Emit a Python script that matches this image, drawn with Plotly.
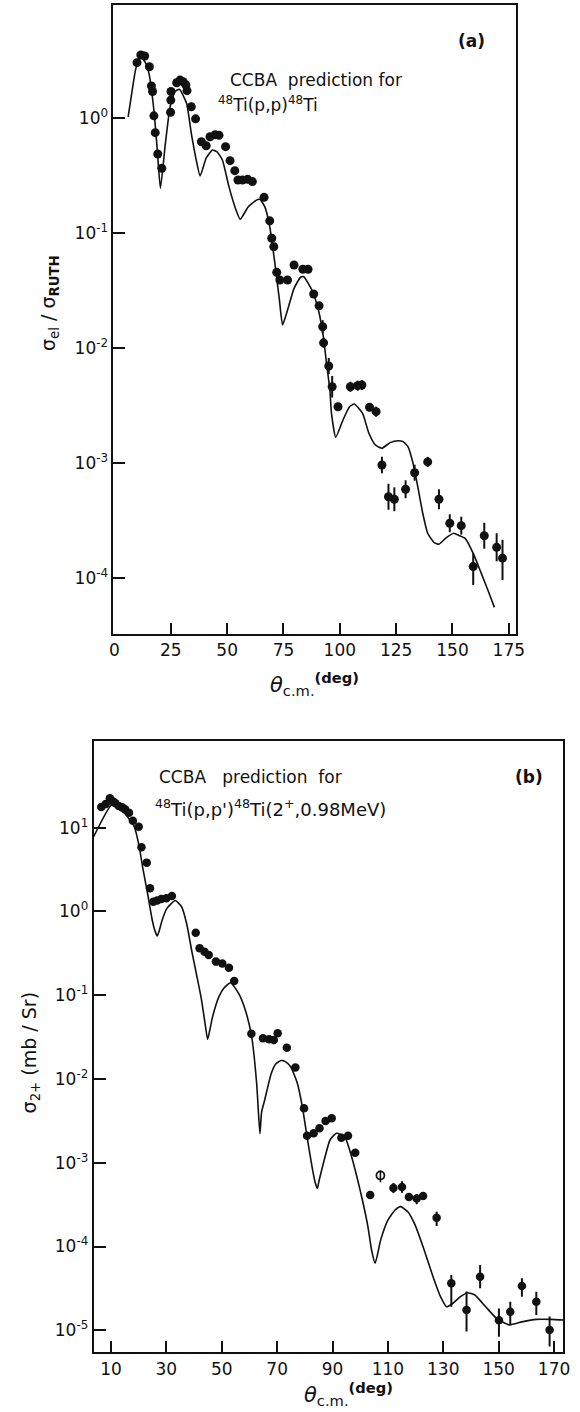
import plotly.graph_objects as go

# ---------------- Panel (a): elastic 48Ti(p,p)48Ti ----------------
theta_a = [10.0, 11.7, 13.4, 15.5, 16.4, 16.9, 17.5, 18.1, 19.2, 21.0,
           24.9, 25.0, 25.1, 27.6, 29.1, 30.5, 31.7, 32.2, 34.1, 36.0,
           38.6, 40.7, 42.4, 44.7, 46.4, 49.3, 51.3, 53.4, 54.8, 56.8,
           59.1, 61.2, 66.4, 68.9, 69.8, 70.7, 72.0, 73.4, 76.8, 79.7,
           83.6, 85.9, 88.4, 90.8, 92.4, 92.8, 95.1, 96.6, 99.2, 104.7,
           107.9, 109.8, 113.2, 116.1, 118.7, 121.6, 124.2, 129.2, 133.2, 139.0,
           144.0, 148.8, 153.9, 159.2, 164.1, 169.6, 172.2]
sig_a = [3.05, 3.56, 3.49, 2.81, 1.91, 1.71, 1.05, 0.750, 0.489, 0.367,
         1.13, 1.44, 1.71, 2.04, 2.15, 2.08, 1.95, 1.74, 1.26, 0.99,
         0.625, 0.577, 0.691, 0.720, 0.711, 0.566, 0.428, 0.350, 0.290, 0.290,
         0.294, 0.281, 0.205, 0.128, 0.0902, 0.0762, 0.0456, 0.0391, 0.0391, 0.0528,
         0.0485, 0.0485, 0.0295, 0.0233, 0.0153, 0.0111, 0.00697, 0.00460, 0.00308, 0.00460,
         0.00470, 0.00476, 0.00305, 0.00279, 0.000958, 0.000507, 0.000482, 0.000589, 0.000821, 0.00102,
         0.000482, 0.000298, 0.000284, 0.000125, 0.000232, 0.000184, 0.000148]
# error bar half-lengths in decades (up / down)
err_a_up = [0] * 44 + [0.058, 0.044, 0.07, 0.094, 0.026, 0.044, 0.044, 0.044, 0.035, 0.044,
                       0.072, 0.113, 0.104, 0.078, 0.07, 0.044, 0.087, 0.078, 0.078, 0.116,
                       0.113, 0.122, 0.16]
err_a_dn = [0] * 44 + [0.058, 0.044, 0.07, 0.094, 0.026, 0.044, 0.044, 0.044, 0.035, 0.044,
                       0.072, 0.113, 0.104, 0.078, 0.07, 0.044, 0.087, 0.078, 0.078, 0.16,
                       0.113, 0.122, 0.19]

curve_a_theta = [6.07, 8.1, 9.5, 11.7, 13.9, 15.3, 17.5, 19.0, 20.4, 22.6,
                 24.7, 26.9, 28.8, 32.0, 34.1, 36.3, 38.0, 40.7, 43.5, 45.6,
                 47.9, 50.8, 53.7, 55.8, 59.4, 63.0, 64.5, 66.7, 68.9, 71.0,
                 73.2, 74.6, 76.8, 79.7, 82.6, 84.0, 87.6, 90.5, 92.7, 94.1,
                 95.6, 96.3, 98.2, 101.4, 104.3, 106.4, 110.1, 112.9, 115.8, 118.7,
                 122.3, 125.9, 128.1, 130.3, 132.5, 134.6, 136.8, 139.0, 141.9, 144.0,
                 146.9, 150.5, 152.7, 155.6, 159.2, 162.8, 165.7, 168.6]
curve_a_sig = [1.03, 1.88, 2.72, 3.44, 3.01, 2.46, 1.18, 0.53, 0.246, 0.605,
               1.26, 1.71, 1.79, 1.35, 0.74, 0.433, 0.315, 0.449, 0.53, 0.509,
               0.433, 0.254, 0.164, 0.132, 0.170, 0.194, 0.197, 0.170, 0.114, 0.0583,
               0.0262, 0.0159, 0.0214, 0.0331, 0.0413, 0.0418, 0.0320, 0.0214, 0.01254, 0.00736,
               0.00431, 0.00270, 0.00167, 0.00236, 0.00308, 0.00325, 0.00270, 0.00181, 0.00143, 0.00134,
               0.00150, 0.00156, 0.00153, 0.00138, 0.00099, 0.00062, 0.000364, 0.000244, 0.000202, 0.000196,
               0.000220, 0.000244, 0.000234, 0.000220, 0.000163, 0.000109, 0.0000781, 0.0000552]

xticks_a = [0, 25, 50, 75, 100, 125, 150, 175]
yticks_a = [1e-4, 1e-3, 1e-2, 1e-1, 1]
yticklabels_a = ["10<sup>-4</sup>", "10<sup>-3</sup>", "10<sup>-2</sup>", "10<sup>-1</sup>", "10<sup>0</sup>"]

# ---------------- Panel (b): inelastic 48Ti(p,p')48Ti(2+) ----------------
theta_b = [6.5, 8.1, 9.6, 10.8, 11.6, 12.8, 14.0, 15.1, 16.5, 17.9,
           20.0, 21.0, 22.9, 24.1, 25.3, 26.7, 28.2, 30.0, 32.0, 40.6,
           42.0, 43.8, 45.3, 47.9, 50.2, 52.6, 54.5, 60.7, 64.9, 67.1,
           68.8, 70.2, 73.5, 76.6, 79.7, 80.8, 83.2, 85.3, 87.5, 89.7,
           93.2, 95.6, 98.2, 103.6, 112.0, 115.1, 117.6, 120.4, 122.7,
           127.6, 132.9, 138.4, 143.3, 150.1, 154.2, 158.4, 163.6, 168.4]
sig_b = [17.7, 19.2, 22.5, 20.5, 19.6, 18.2, 17.5, 16.6, 15.1, 12.1,
         10.3, 5.85, 3.83, 1.89, 1.31, 1.35, 1.41, 1.44, 1.53, 0.558,
         0.364, 0.331, 0.303, 0.252, 0.240, 0.213, 0.148, 0.0348, 0.0306, 0.0298,
         0.0292, 0.0352, 0.0236, 0.0137, 0.00447, 0.00210, 0.00225, 0.00258, 0.00315, 0.00340,
         0.00199, 0.00210, 0.00132, 4.12e-4, 5.00e-4, 5.13e-4, 3.90e-4, 3.74e-4, 4.01e-4,
         2.21e-4, 3.64e-5, 1.75e-5, 4.36e-5, 1.32e-5, 1.66e-5, 3.37e-5, 2.19e-5, 1.01e-5]
err_b_up = [0] * 43 + [0.02, 0.06, 0.07, 0.03, 0.052, 0.03,
                       0.072, 0.10, 0.219, 0.139, 0.139, 0.119, 0.092, 0.119, 0.159]
err_b_dn = [0] * 43 + [0.02, 0.06, 0.07, 0.03, 0.068, 0.03,
                       0.10, 0.28, 0.259, 0.139, 0.199, 0.159, 0.127, 0.159, 0.199]
theta_b_open = [107.3]
sig_b_open = [7.05e-4]
err_b_open_up = [0.06]
err_b_open_dn = [0.08]

curve_b_theta = [3.74, 10.2, 12.6, 14.9, 18.4, 20.2, 21.4, 23.2, 24.9, 25.9,
                 26.7, 27.4, 28.5, 30.2, 33.2, 35.5, 37.3, 39.1, 40.8, 42.6,
                 43.8, 44.9, 45.7, 46.7, 49.0, 50.8, 53.2, 56.1, 58.5, 60.8,
                 62.6, 63.2, 63.8, 64.4, 65.5, 67.9, 69.5, 71.4, 73.1, 74.9,
                 77.3, 79.1, 80.8, 82.6, 83.7, 84.5, 85.2, 86.7, 89.1, 91.4,
                 94.4, 96.9, 98.8, 100.8, 102.8, 104.1, 105.4, 107.4, 110.0, 112.6,
                 114.6, 117.2, 119.8, 123.1, 126.3, 129.0, 131.2, 133.5, 136.2, 138.7,
                 141.4, 145.3, 149.2, 153.8, 158.4, 163.6, 168.9, 174.3]
curve_b_sig = [7.82, 18.7, 17.2, 14.9, 10.3, 5.94, 3.43, 1.65, 0.792, 0.585,
               0.509, 0.585, 0.792, 1.09, 1.35, 1.14, 0.723, 0.347, 0.183, 0.0920,
               0.0506, 0.0298, 0.0385, 0.0555, 0.0962, 0.122, 0.141, 0.105, 0.0667, 0.0320,
               0.00889, 0.00427, 0.00222, 0.00404, 0.00561, 0.0117, 0.0151, 0.0166, 0.0160, 0.0140,
               0.00889, 0.00467, 0.00205, 8.97e-4, 5.89e-4, 4.93e-4, 6.22e-4, 9.85e-4, 1.87e-3, 2.25e-3,
               2.05e-3, 1.18e-3, 6.81e-4, 3.59e-4, 1.72e-4, 9.08e-5, 6.30e-5, 1.20e-4, 2.07e-4, 2.73e-4,
               2.99e-4, 2.60e-4, 1.81e-4, 9.08e-5, 4.36e-5, 2.52e-5, 1.91e-5, 2.10e-5, 2.52e-5, 2.81e-5,
               2.64e-5, 1.91e-5, 1.39e-5, 1.16e-5, 1.26e-5, 1.35e-5, 1.35e-5, 1.32e-5]

xticks_b = [10, 30, 50, 70, 90, 110, 130, 150, 170]
yticks_b = [1e-5, 1e-4, 1e-3, 1e-2, 1e-1, 1, 10]
yticklabels_b = ["10<sup>-5</sup>", "10<sup>-4</sup>", "10<sup>-3</sup>", "10<sup>-2</sup>",
                 "10<sup>-1</sup>", "10<sup>0</sup>", "10<sup>1</sup>"]

# ---------------- helpers ----------------
INK = "#111111"
FONT = "DejaVu Sans"
W, H = 580, 1412


def errs(vals, up, dn):
    plus = [v * (10 ** u - 1) for v, u in zip(vals, up)]
    minus = [v * (1 - 10 ** (-d)) for v, d in zip(vals, dn)]
    return plus, minus


def px(x, y):
    return x / W, 1 - y / H


fig = go.Figure()

# Panel (a)
fig.add_trace(go.Scatter(x=curve_a_theta, y=curve_a_sig, mode="lines",
                         line=dict(color=INK, width=1.6, shape="spline", smoothing=0.5),
                         xaxis="x", yaxis="y", showlegend=False, hoverinfo="skip"))
pa, ma = errs(sig_a, err_a_up, err_a_dn)
fig.add_trace(go.Scatter(x=theta_a, y=sig_a, mode="markers",
                         marker=dict(color=INK, size=9),
                         error_y=dict(type="data", symmetric=False, array=pa, arrayminus=ma,
                                      thickness=2, width=0, color=INK),
                         xaxis="x", yaxis="y", showlegend=False))

# Panel (b)
fig.add_trace(go.Scatter(x=curve_b_theta, y=curve_b_sig, mode="lines",
                         line=dict(color=INK, width=1.6, shape="spline", smoothing=0.5),
                         xaxis="x2", yaxis="y2", showlegend=False, hoverinfo="skip"))
pb, mb = errs(sig_b, err_b_up, err_b_dn)
fig.add_trace(go.Scatter(x=theta_b, y=sig_b, mode="markers",
                         marker=dict(color=INK, size=8.5),
                         error_y=dict(type="data", symmetric=False, array=pb, arrayminus=mb,
                                      thickness=2, width=0, color=INK),
                         xaxis="x2", yaxis="y2", showlegend=False))
po, mo = errs(sig_b_open, err_b_open_up, err_b_open_dn)
fig.add_trace(go.Scatter(x=theta_b_open, y=sig_b_open, mode="markers",
                         marker=dict(symbol="circle-open", color=INK, size=8, line=dict(width=1.8, color=INK)),
                         error_y=dict(type="data", symmetric=False, array=po, arrayminus=mo,
                                      thickness=1.6, width=0, color=INK),
                         xaxis="x2", yaxis="y2", showlegend=False))

axis_common = dict(showline=True, linewidth=2, linecolor=INK, mirror=True,
                   ticks="inside", ticklen=12, tickwidth=2, tickcolor=INK,
                   showgrid=False, zeroline=False,
                   tickfont=dict(family=FONT, size=17, color=INK))

fig.update_layout(
    width=W, height=H,
    margin=dict(l=0, r=0, t=0, b=0),
    paper_bgcolor="white", plot_bgcolor="white",
    font=dict(family=FONT, color=INK),
    xaxis=dict(domain=[112 / W, 524 / W], range=[-0.43, 178.3], anchor="y",
               tickmode="array", tickvals=xticks_a, ticktext=[str(t) for t in xticks_a],
               **axis_common),
    yaxis=dict(domain=[1 - 634 / H, 1 - 5 / H], type="log", range=[-4.49, 0.9865], anchor="x",
               tickmode="array", tickvals=yticks_a, ticktext=yticklabels_a,
               **axis_common),
    xaxis2=dict(domain=[91.7 / W, 572 / W], range=[3.74, 173.3], anchor="y2",
                tickmode="array", tickvals=xticks_b, ticktext=[str(t) for t in xticks_b],
                **axis_common),
    yaxis2=dict(domain=[1 - 1352.3 / H, 1 - 740.7 / H], type="log", range=[-5.263, 2.039], anchor="x2",
                tickmode="array", tickvals=yticks_b, ticktext=yticklabels_b,
                **axis_common),
)

fig.update_xaxes(ticklen=11)


def ann(x, y, text, size=17, xanchor="left", angle=0):
    X, Y = px(x, y)
    fig.add_annotation(x=X, y=Y, xref="paper", yref="paper", text=text, showarrow=False,
                       xanchor=xanchor, yanchor="middle", textangle=angle,
                       font=dict(family=FONT, size=size, color=INK))


XTITLE = "<i>θ</i><sub>c.m.</sub><sup><b>(deg)</b></sup>"

# Panel (a) texts
ann(229, 80, "CCBA&nbsp;&nbsp;prediction for")
ann(217, 104, "<sup>48</sup>Ti(p,p)<sup>48</sup>Ti")
ann(478, 41, "<b>(a)</b>", xanchor="center")
ann(46, 303, "σ<sub>el</sub> / σ<sub><b>RUTH</b></sub>", size=19, xanchor="center", angle=-90)
ann(318, 684, XTITLE, size=21, xanchor="center")

# Panel (b) texts
ann(157, 777, "CCBA&nbsp;&nbsp; prediction&nbsp; for")
ann(152, 808, "<sup>48</sup>Ti(p,p')<sup>48</sup>Ti(2<sup>+</sup>,0.98MeV)", size=18)
ann(537, 777, "<b>(b)</b>", xanchor="center")
ann(27, 1053, "σ<sub>2+</sub> (mb / Sr)", size=19, xanchor="center", angle=-90)
ann(352, 1394, XTITLE, size=21, xanchor="center")

fig.write_html("out.html")
